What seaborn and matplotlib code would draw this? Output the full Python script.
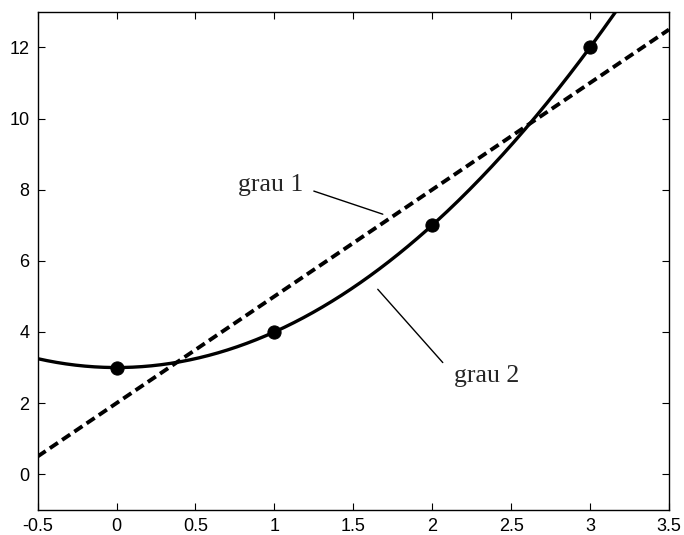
import numpy as np
import pandas as pd
import seaborn as sns
import matplotlib.pyplot as plt

# pontos de dados
x_pts = [0, 1, 2, 3]
y_pts = [3, 4, 7, 12]

# ajustes polinomiais de grau 1 e grau 2
c1 = np.polyfit(x_pts, y_pts, 1)
c2 = np.polyfit(x_pts, y_pts, 2)
xs = np.linspace(-0.5, 3.5, 400)
df = pd.DataFrame({'x': xs, 'g1': np.polyval(c1, xs), 'g2': np.polyval(c2, xs)})
pts = pd.DataFrame({'x': x_pts, 'y': y_pts})

sns.set_style('white')
plt.rcParams['font.family'] = ['Liberation Sans', 'DejaVu Sans']

fig = plt.figure(figsize=(6.84, 5.35), dpi=100)
ax = fig.add_axes([0.055, 0.047, 0.923, 0.931])

sns.lineplot(data=df, x='x', y='g2', ax=ax, color='black', lw=2.4)
sns.lineplot(data=df, x='x', y='g1', ax=ax, color='black', lw=2.8, linestyle=(0, (2.5, 1.3)))
sns.scatterplot(data=pts, x='x', y='y', ax=ax, color='black', s=90, edgecolor='black', zorder=5)

ax.set_xlim(-0.5, 3.5)
ax.set_ylim(-1, 13)
ax.set_xticks(np.arange(-0.5, 3.51, 0.5))
ax.set_xticklabels(['-0.5', '0', '0.5', '1', '1.5', '2', '2.5', '3', '3.5'])
ax.set_yticks(range(0, 13, 2))
ax.set_xlabel('')
ax.set_ylabel('')
ax.tick_params(direction='in', length=5, width=0.8, labelsize=13, top=True, right=True,
               bottom=True, left=True, colors='black', pad=6)
for s in ax.spines.values():
    s.set_color('black')
    s.set_linewidth(1.0)

# anotações
ax.plot([1.25, 1.687], [7.96, 7.31], color='black', lw=1)
ax.text(1.18, 8.12, 'grau 1', ha='right', va='center', fontsize=18.5, family=['Liberation Serif'])
ax.plot([1.655, 2.067], [5.2, 3.14], color='black', lw=1)
ax.text(2.136, 2.77, 'grau 2', ha='left', va='center', fontsize=18.5, family=['Liberation Serif'])

plt.savefig('out.png', dpi=100)
